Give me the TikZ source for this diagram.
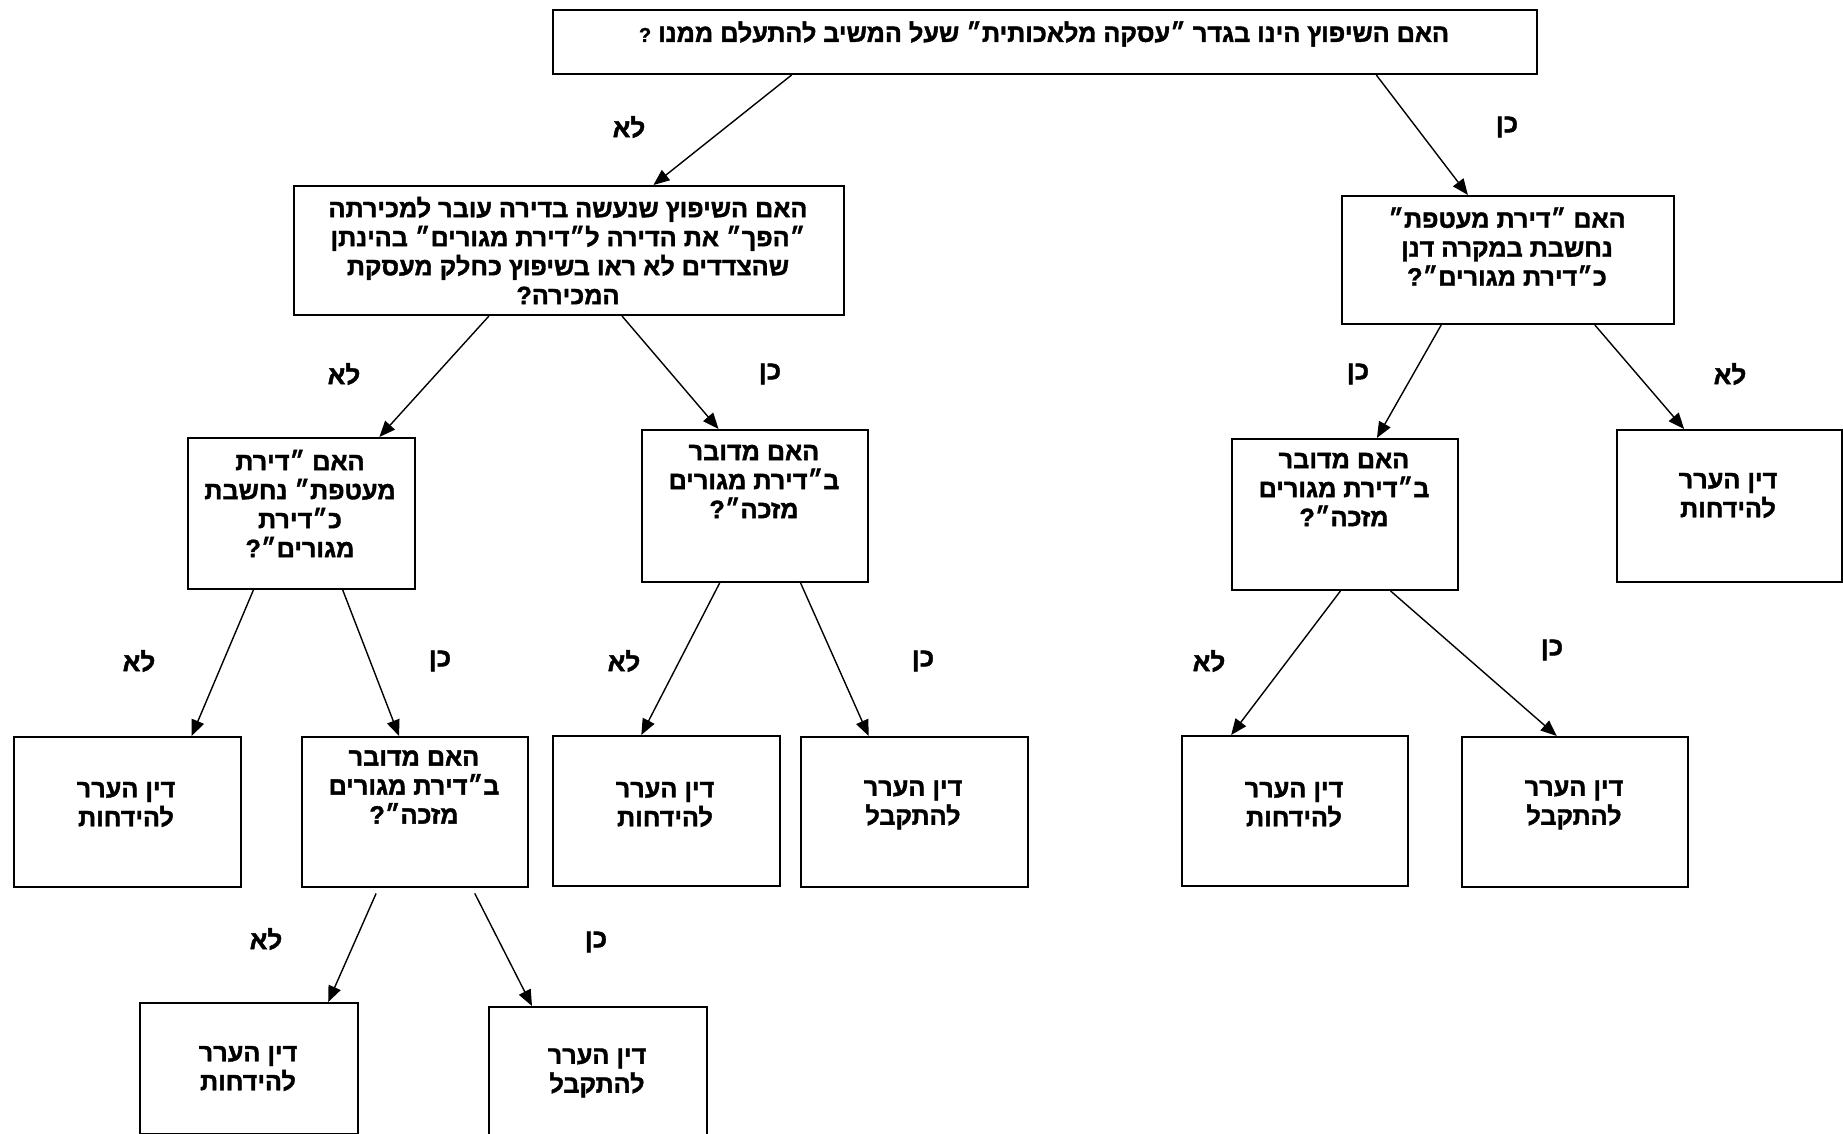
\documentclass[tikz,border=0pt]{standalone}
\usepackage{fontspec}
\setmainfont{Liberation Sans}
\newfontfamily\hebfont[Script=Hebrew,FakeBold=1.6]{Liberation Sans Bold}
\TeXXeTstate=1
\usetikzlibrary{arrows.meta,calc}
\newcommand\hb[1]{\beginR #1\endR}
\newcommand\mkbox[5]{\node[box,minimum width=#4*0.5pt,minimum height=#5*0.5pt] (#1) at (#2,#3) {};}
\newcommand\conn[4]{\draw[arr] ($(#1.south west)!#2!(#1.south east)$) -- ($(#3.north west)!#4!(#3.north east)$);}
\begin{document}
\begin{tikzpicture}[x=0.5pt,y=-0.5pt,
  box/.style={draw,line width=1pt,inner sep=0pt,anchor=north west},
  txt/.style={font=\hebfont\fontsize{12.6}{14.5}\selectfont,align=center,inner sep=0pt},
  ans/.style={font=\hebfont\fontsize{13}{14.5}\selectfont,inner sep=0pt},
  arr/.style={-{Triangle[length=8pt,width=6.5pt]},line width=0.7pt}]
\useasboundingbox (0,0) rectangle (1843,1134);
% boxes
\mkbox{top}{552}{9}{984}{64}
\mkbox{L1}{293}{185}{550}{129}
\mkbox{R1}{1341}{195}{332}{128}
\mkbox{LL}{187}{437}{227}{151}
\mkbox{LM}{641}{429}{226}{152}
\mkbox{RL}{1231}{438}{226}{151}
\mkbox{RR}{1616}{429}{225}{152}
\mkbox{A}{13}{736}{227}{150}
\mkbox{B}{301}{736}{226}{150}
\mkbox{C}{552}{735}{227}{150}
\mkbox{D}{800}{736}{227}{150}
\mkbox{E}{1181}{735}{226}{150}
\mkbox{F}{1461}{736}{226}{150}
\mkbox{G}{139}{1002}{218}{131}
\mkbox{H}{488}{1006}{218}{154}
% texts
\node[txt] (topt) at (1044,34) {\hb{האם השיפוץ הינו בגדר ״עסקה מלאכותית״ שעל המשיב להתעלם ממנו {\fontsize{10}{10}\selectfont ?}}};
\node[txt] (L1t) at (568,250.5) {\hb{האם השיפוץ שנעשה בדירה עובר למכירתה}\\\hb{״הפך״ את הדירה ל״דירת מגורים״ בהינתן}\\\hb{שהצדדים לא ראו בשיפוץ כחלק מעסקת}\\\hb{המכירה?}};
\node[txt] (R1t) at (1507,246.5) {\hb{האם ״דירת מעטפת״}\\\hb{נחשבת במקרה דנן}\\\hb{כ״דירת מגורים״?}};
\node[txt] (LLt) at (300,503.5) {\hb{האם ״דירת}\\\hb{מעטפת״ נחשבת}\\\hb{כ״דירת}\\\hb{מגורים״?}};
\node[txt] (LMt) at (754,481.5) {\hb{האם מדובר}\\\hb{ב״דירת מגורים}\\\hb{מזכה״?}};
\node[txt] (RLt) at (1344,489.5) {\hb{האם מדובר}\\\hb{ב״דירת מגורים}\\\hb{מזכה״?}};
\node[txt] (RRt) at (1728,495.5) {\hb{דין הערר}\\\hb{להידחות}};
\node[txt] (At) at (126,804.5) {\hb{דין הערר}\\\hb{להידחות}};
\node[txt] (Bt) at (414,787) {\hb{האם מדובר}\\\hb{ב״דירת מגורים}\\\hb{מזכה״?}};
\node[txt] (Ct) at (665,804.5) {\hb{דין הערר}\\\hb{להידחות}};
\node[txt] (Dt) at (913,805) {\hb{דין הערר}\\\hb{להתקבל}};
\node[txt] (Et) at (1294,804.5) {\hb{דין הערר}\\\hb{להידחות}};
\node[txt] (Ft) at (1574,805) {\hb{דין הערר}\\\hb{להתקבל}};
\node[txt] (Gt) at (248,1068.5) {\hb{דין הערר}\\\hb{להידחות}};
\node[txt] (Ht) at (597,1073) {\hb{דין הערר}\\\hb{להתקבל}};
% connectors
\conn{top}{0.243}{L1}{0.653}
\conn{top}{0.836}{R1}{0.38}
\conn{L1}{0.355}{LL}{0.84}
\conn{L1}{0.596}{LM}{0.34}
\conn{R1}{0.30}{RL}{0.64}
\conn{R1}{0.76}{RR}{0.30}
\conn{LL}{0.29}{A}{0.78}
\conn{LL}{0.68}{B}{0.43}
\conn{LM}{0.345}{C}{0.39}
\conn{LM}{0.70}{D}{0.30}
\conn{RL}{0.48}{E}{0.22}
\conn{RL}{0.70}{F}{0.42}
\draw[arr,shorten <=3pt] ($(B.south west)!0.34!(B.south east)$) -- ($(G.north west)!0.86!(G.north east)$);
\draw[arr,shorten <=3pt] ($(B.south west)!0.75!(B.south east)$) -- ($(H.north west)!0.20!(H.north east)$);
% answer labels
\node[ans] (a1) at (629,127) {\hb{לא}};
\node[ans] (a2) at (1507,127) {\hb{כן}};
\node[ans] (a3) at (344,374) {\hb{לא}};
\node[ans] (a4) at (770,374) {\hb{כן}};
\node[ans] (a5) at (1358,374) {\hb{כן}};
\node[ans] (a6) at (1730,374) {\hb{לא}};
\node[ans] (a7) at (139,661) {\hb{לא}};
\node[ans] (a8) at (440,661) {\hb{כן}};
\node[ans] (a9) at (624,661) {\hb{לא}};
\node[ans] (a10) at (923,661) {\hb{כן}};
\node[ans] (a11) at (1209,661) {\hb{לא}};
\node[ans] (a12) at (1552,650) {\hb{כן}};
\node[ans] (a13) at (266,939) {\hb{לא}};
\node[ans] (a14) at (596,942) {\hb{כן}};
\end{tikzpicture}
\end{document}
